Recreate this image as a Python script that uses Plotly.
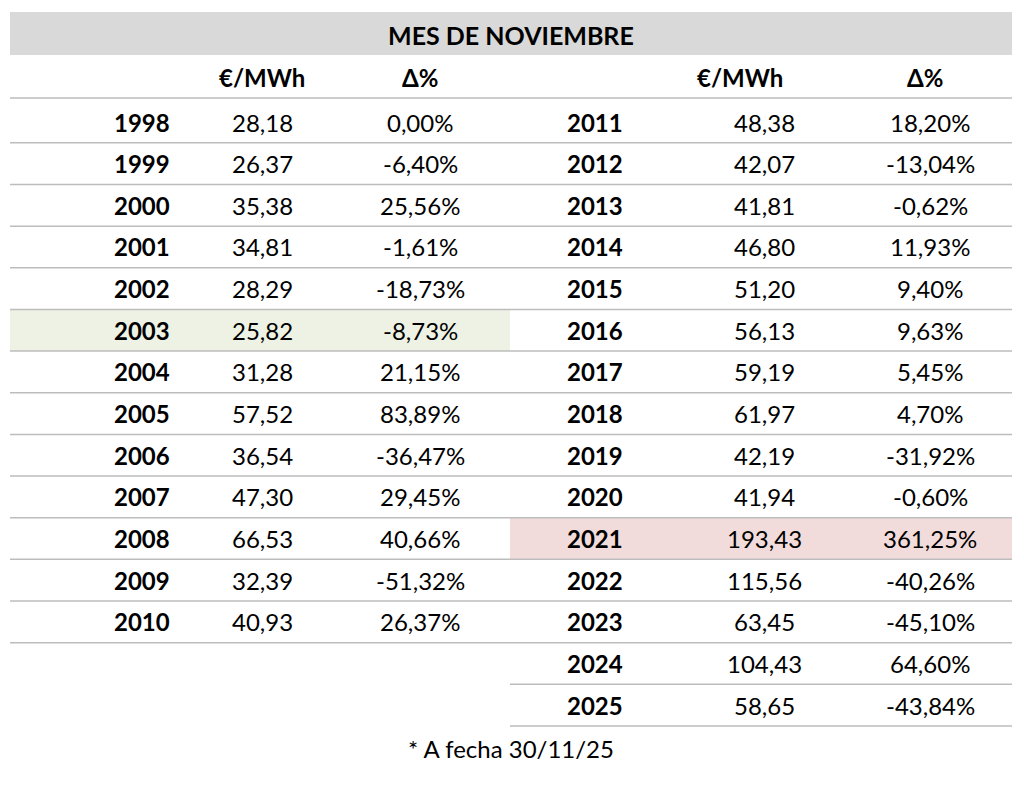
import plotly.graph_objects as go

title = "MES DE NOVIEMBRE"
col_heads = ["€/MWh", "Δ%"]
years_l = [1998, 1999, 2000, 2001, 2002, 2003, 2004, 2005, 2006, 2007, 2008, 2009, 2010]
price_l = ["28,18", "26,37", "35,38", "34,81", "28,29", "25,82", "31,28", "57,52", "36,54", "47,30", "66,53", "32,39", "40,93"]
delta_l = ["0,00%", "-6,40%", "25,56%", "-1,61%", "-18,73%", "-8,73%", "21,15%", "83,89%", "-36,47%", "29,45%", "40,66%", "-51,32%", "26,37%"]
years_r = [2011, 2012, 2013, 2014, 2015, 2016, 2017, 2018, 2019, 2020, 2021, 2022, 2023, 2024, 2025]
price_r = ["48,38", "42,07", "41,81", "46,80", "51,20", "56,13", "59,19", "61,97", "42,19", "41,94", "193,43", "115,56", "63,45", "104,43", "58,65"]
delta_r = ["18,20%", "-13,04%", "-0,62%", "11,93%", "9,40%", "9,63%", "5,45%", "4,70%", "-31,92%", "-0,60%", "361,25%", "-40,26%", "-45,10%", "64,60%", "-43,84%"]
footnote = "* A fecha 30/11/25"

FONT = "Lato"
y0, dy = 122, 41.65
fig = go.Figure()
shapes, ann = [], []

def txt(x, y, s, bold=False, anchor="center", size=24):
    ann.append(dict(x=x, y=y, text=f"<b>{s}</b>" if bold else s, showarrow=False,
                    xanchor=anchor, yanchor="middle", font=dict(family=FONT, size=size, color="black")))

def hline(x0, x1, y):
    shapes.append(dict(type="line", x0=x0, x1=x1, y0=y, y1=y, line=dict(color="#bdbdbd", width=1.5)))

shapes.append(dict(type="rect", x0=10, x1=1012, y0=12, y1=55, fillcolor="#d9d9d9", line_width=0, layer="below"))
txt(511, 35, title, bold=True, size=25)
for x, s in zip([262, 420, 740, 925], col_heads * 2):
    txt(x, 77, s, bold=True)
hline(10, 1012, 98)

for i, (yr, p, d) in enumerate(zip(years_l, price_l, delta_l)):
    y = y0 + i * dy
    if yr == 2003:
        shapes.append(dict(type="rect", x0=10, x1=510, y0=y - dy / 2, y1=y + dy / 2,
                           fillcolor="#edf2e4", line_width=0, layer="below"))
    txt(172, y, yr, bold=True, anchor="right")
    txt(262, y, p)
    txt(420, y, d)
    hline(10, 510, y + dy / 2)

for i, (yr, p, d) in enumerate(zip(years_r, price_r, delta_r)):
    y = y0 + i * dy
    if yr == 2021:
        shapes.append(dict(type="rect", x0=510, x1=1012, y0=y - dy / 2, y1=y + dy / 2,
                           fillcolor="#f2dcdb", line_width=0, layer="below"))
    txt(625, y, yr, bold=True, anchor="right")
    txt(764, y, p)
    txt(930, y, d)
    hline(510, 1012, y + dy / 2)

txt(511, 748, footnote)

# page body adds an 8px offset; shift the ranges to compensate
fig.update_layout(width=1024, height=789, margin=dict(l=0, r=0, t=0, b=0),
                  plot_bgcolor="white", paper_bgcolor="white", shapes=shapes, annotations=ann,
                  xaxis=dict(range=[8, 1032], visible=False),
                  yaxis=dict(range=[797, 8], visible=False))
fig.write_html("out.html")
